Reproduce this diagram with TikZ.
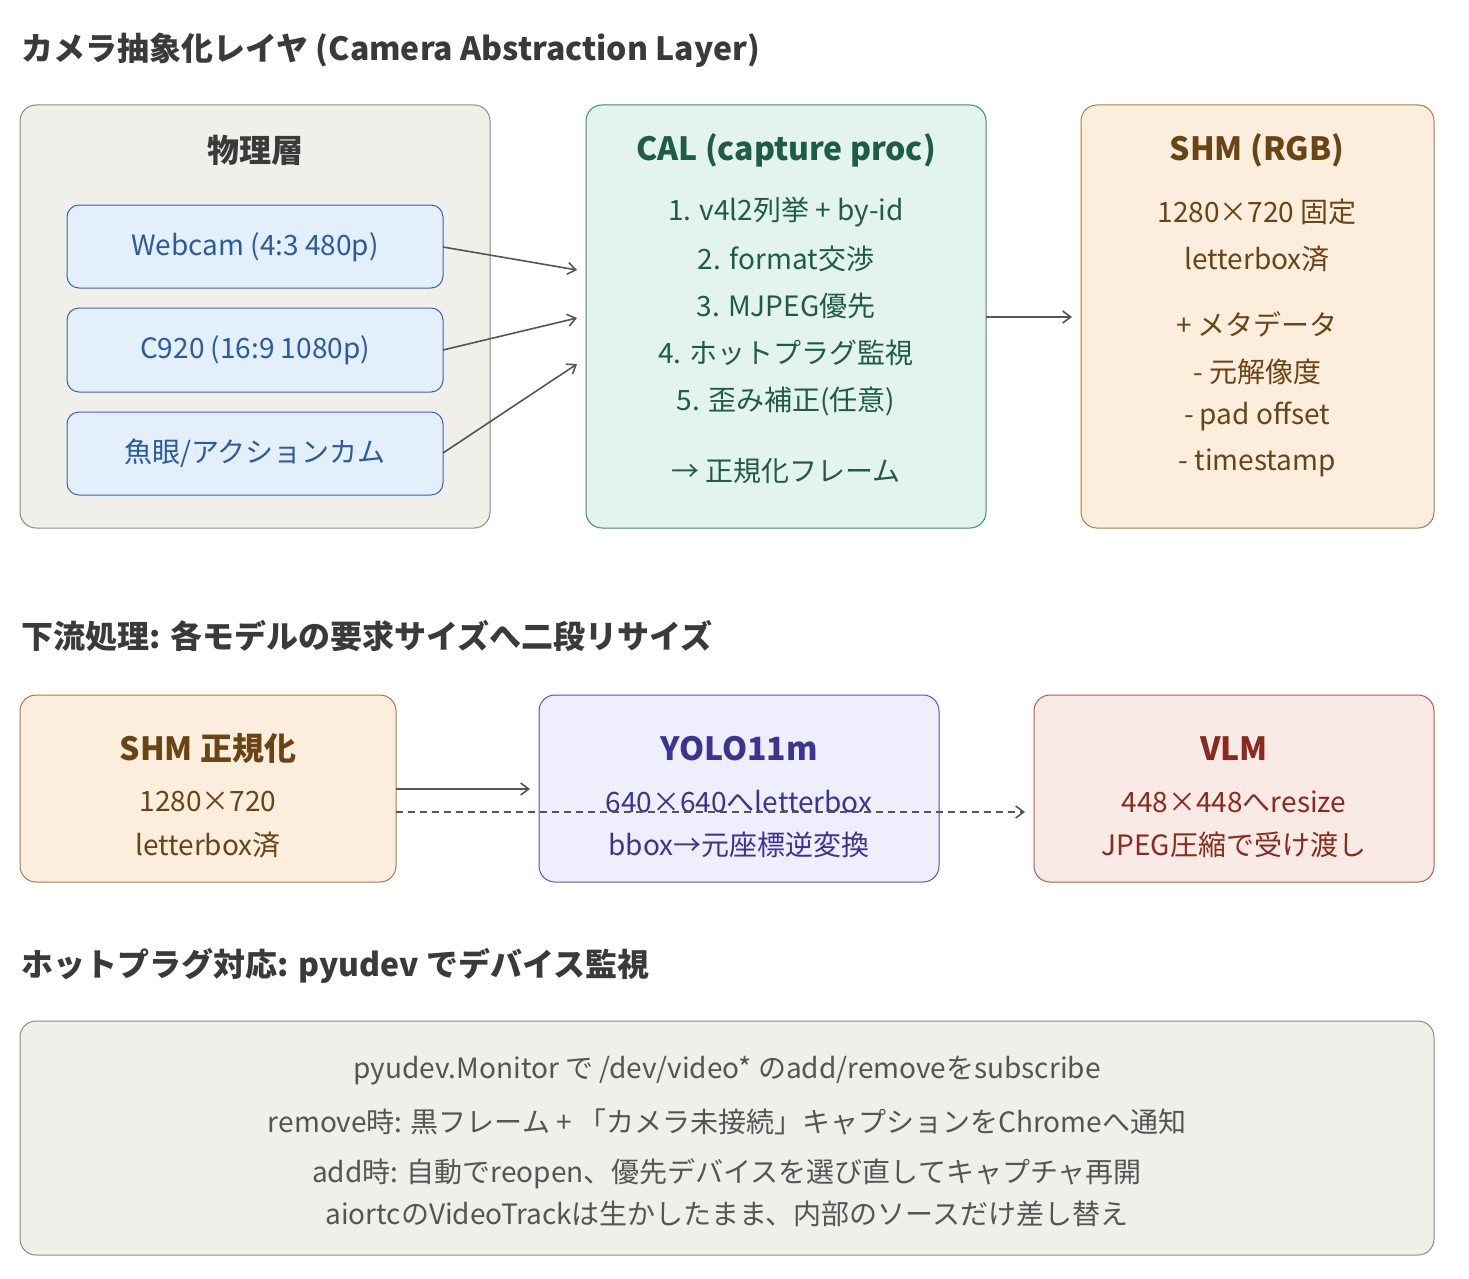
\documentclass[tikz,border=0pt]{standalone}
\usepackage{fontspec}
\setmainfont{Noto Sans CJK JP}
\usetikzlibrary{arrows.meta}
\definecolor{gfill}{HTML}{F0EFEA}\definecolor{gdraw}{HTML}{8A8A85}
\definecolor{bfill}{HTML}{E3F0FB}\definecolor{bdraw}{HTML}{3A63B0}\definecolor{btext}{HTML}{2A5AA0}
\definecolor{nfill}{HTML}{E3F4EE}\definecolor{ndraw}{HTML}{3C8A6E}\definecolor{ntext}{HTML}{1E5C45}
\definecolor{ofill}{HTML}{FBEEDC}\definecolor{odraw}{HTML}{A87A45}\definecolor{otext}{HTML}{6B4416}
\definecolor{pfill}{HTML}{EEEEFC}\definecolor{pdraw}{HTML}{5B50B8}\definecolor{ptext}{HTML}{3C3490}
\definecolor{rfill}{HTML}{FAEAE6}\definecolor{rdraw}{HTML}{B05A4A}\definecolor{rtext}{HTML}{8A2A1E}
\definecolor{ttext}{HTML}{3A3A3A}\definecolor{arr}{HTML}{555555}
\tikzset{
 box/.style={draw, rounded corners=16pt, line width=1pt},
 sec/.style={anchor=west, font=\fontsize{32}{32}\selectfont\bfseries, text=ttext},
 hd/.style={font=\fontsize{32}{32}\selectfont\bfseries},
 tx/.style={font=\fontsize{28}{28}\selectfont},
 ar/.style={-{Straight Barb[length=8pt,width=12pt]}, line width=1.6pt, draw=arr},
}
\begin{document}
\begin{tikzpicture}[x=1pt,y=-1pt]
\useasboundingbox (0,0) rectangle (1469,1279);
\node[sec] (s1) at (18,50) {カメラ抽象化レイヤ (Camera Abstraction Layer)};
% physical
\draw[box,fill=gfill,draw=gdraw] (20,105) rectangle (490,528);
\node[hd,text=ttext] (ph) at (255,150) {物理層};
\draw[box,fill=bfill,draw=bdraw,rounded corners=12pt] (67,205) rectangle (443,288);
\node[tx,text=btext] (w) at (255,247) {Webcam (4:3 480p)};
\draw[box,fill=bfill,draw=bdraw,rounded corners=12pt] (67,308) rectangle (443,392);
\node[tx,text=btext] (c) at (255,350) {C920 (16:9 1080p)};
\draw[box,fill=bfill,draw=bdraw,rounded corners=12pt] (67,412) rectangle (443,495);
\node[tx,text=btext] (f) at (255,453) {魚眼/アクションカム};
\coordinate (we) at (443,247);\coordinate (ce) at (443,350);\coordinate (fe) at (443,453);
% CAL
\draw[box,fill=nfill,draw=ndraw] (586,105) rectangle (986,528);
\node[hd,text=ntext] (cal) at (786,150) {CAL (capture proc)};
\foreach \t/\y/\n in {1. v4l2列挙 + by-id/212/a,2. format交渉/259/b,3. MJPEG優先/306/c,4. ホットプラグ監視/353/d,5. 歪み補正(任意)/401/e,→ 正規化フレーム/471/f}
  \node[tx,text=ntext] (cal\n) at (786,\y) {\t};
\coordinate (ca1) at (577,270);\coordinate (ca2) at (577,318);\coordinate (ca3) at (577,364);
\draw[ar] (we) -- (ca1); \draw[ar] (ce) -- (ca2); \draw[ar] (fe) -- (ca3);
% SHM
\draw[box,fill=ofill,draw=odraw] (1081,105) rectangle (1434,528);
\node[hd,text=otext] (shm) at (1257,150) {SHM (RGB)};
\foreach \t/\y/\n in {1280×720 固定/212/a,letterbox済/259/b,+ メタデータ/324/c,- 元解像度/372/d,- pad offset/416/e,- timestamp/463/f}
  \node[tx,text=otext] (shm\n) at (1257,\y) {\t};
\coordinate (co) at (986,317);\coordinate (si) at (1072,317);
\draw[ar] (co) -- (si);
% section 2
\node[sec] (s2) at (18,636) {下流処理: 各モデルの要求サイズへ二段リサイズ};
\draw[box,fill=ofill,draw=odraw] (20,695) rectangle (396,882);
\node[hd,text=otext] (n1) at (208,749) {SHM 正規化};
\node[tx,text=otext] (n1a) at (208,802) {1280×720};
\node[tx,text=otext] (n1b) at (208,845) {letterbox済};
\draw[box,fill=pfill,draw=pdraw] (539,695) rectangle (939,882);
\node[hd,text=ptext] (n2) at (739,749) {YOLO11m};
\node[tx,text=ptext] (n2a) at (739,802) {640×640へletterbox};
\node[tx,text=ptext] (n2b) at (739,845) {bbox→元座標逆変換};
\draw[box,fill=rfill,draw=rdraw] (1034,695) rectangle (1434,882);
\node[hd,text=rtext] (n3) at (1234,749) {VLM};
\node[tx,text=rtext] (n3a) at (1234,802) {448×448へresize};
\node[tx,text=rtext] (n3b) at (1234,845) {JPEG圧縮で受け渡し};
\coordinate (o1) at (396,789);\coordinate (i1) at (530,789);
\coordinate (o2) at (396,812);\coordinate (i2) at (1025,812);
\draw[ar] (o1) -- (i1);
\draw[ar,dash pattern=on 7pt off 5pt] (o2) -- (i2);
% section 3
\node[sec] (s3) at (18,966) {ホットプラグ対応: pyudev でデバイス監視};
\draw[box,fill=gfill,draw=gdraw] (20,1021) rectangle (1434,1255);
\node[tx,text=arr] (ha) at (727,1071) {pyudev.Monitor で /dev/video* のadd/removeをsubscribe};
\node[tx,text=arr] (hb) at (727,1122) {remove時: 黒フレーム + 「カメラ未接続」キャプションをChromeへ通知};
\node[tx,text=arr] (hc) at (727,1174) {add時: 自動でreopen、優先デバイスを選び直してキャプチャ再開};
\node[tx,text=arr] (hd) at (727,1214) {aiortcのVideoTrackは生かしたまま、内部のソースだけ差し替え};
\end{tikzpicture}
\end{document}
